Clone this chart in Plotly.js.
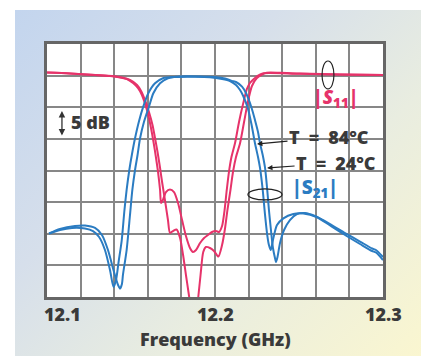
<!DOCTYPE html>
<html>
<head>
<meta charset="utf-8">
<script src="https://cdn.plot.ly/plotly-3.0.1.min.js"></script>
<style>
  html, body { margin: 0; padding: 0; background: #ffffff; }
  #wrap { position: relative; width: 421px; height: 356px; overflow: hidden; background: #ffffff; }
  #bg { position: absolute; left: 15px; top: 10px; right: 0; bottom: 0;
        background: linear-gradient(135deg, #c3d5ee 0%, #d6dfeb 35%, #e9ede0 65%, #faf6d0 100%); }
  #chart { position: absolute; left: 0; top: 0; width: 421px; height: 356px; }
</style>
</head>
<body>
<div id="wrap"><div id="bg"></div><div id="chart"></div></div>
<script>
// ---- Data (frequency in GHz, magnitude in dB, relative scale 5 dB/div) ----
const tickLabels = ["12.1", "12.2", "12.3"];
const tickValues = [12.1, 12.2, 12.3];

// |S11| at T = 84 °C
const s11_84_f = [12.1000,12.1137,12.1286,12.1375,12.1435,12.1476,12.1512,12.1542,12.1565,12.1586,12.1604,12.1619,12.1634,12.1649,12.1661,12.1673,12.1679,12.1690,12.1708,12.1732,12.1756,12.1780,12.1804,12.1827,12.1851,12.1869,12.1887,12.1911,12.1935,12.1958,12.1982,12.2006,12.2024,12.2042,12.2057,12.2070,12.2083,12.2098,12.2119,12.2143,12.2168,12.2190,12.2208,12.2228,12.2256,12.2288,12.2327,12.2506,12.2744,12.3000];
const s11_84_db = [0.49,0.34,0.10,-0.06,-0.30,-0.53,-1.17,-1.96,-3.06,-4.64,-6.38,-8.28,-10.49,-13.02,-15.24,-18.08,-20.14,-19.66,-18.40,-18.00,-18.40,-20.14,-22.83,-25.36,-27.25,-27.89,-27.57,-26.46,-25.67,-25.20,-24.72,-24.57,-24.72,-23.77,-21.25,-18.08,-15.24,-12.87,-10.70,-7.33,-4.38,-2.11,-1.17,-0.61,0.02,0.37,0.42,0.29,0.18,0.10];

// |S11| at T = 24 °C
const s11_24_f = [12.1000,12.1137,12.1286,12.1387,12.1446,12.1494,12.1536,12.1560,12.1583,12.1607,12.1628,12.1643,12.1658,12.1673,12.1685,12.1702,12.1720,12.1732,12.1750,12.1771,12.1792,12.1810,12.1827,12.1842,12.1857,12.1875,12.1893,12.1914,12.1930,12.1946,12.1970,12.1994,12.2020,12.2042,12.2060,12.2074,12.2092,12.2107,12.2125,12.2149,12.2173,12.2198,12.2220,12.2248,12.2280,12.2308,12.2387,12.2506,12.2744,12.3000];
const s11_24_db = [0.49,0.34,0.10,-0.06,-0.30,-0.69,-1.48,-2.43,-3.85,-5.75,-7.81,-9.86,-12.08,-14.60,-16.82,-19.66,-22.83,-24.88,-24.57,-24.33,-25.67,-28.36,-31.52,-34.21,-37.0,-42.0,-37.0,-31.52,-27.89,-27.09,-27.25,-27.73,-28.60,-26.78,-24.09,-21.25,-18.08,-15.24,-12.87,-10.70,-7.33,-3.85,-1.64,-0.42,0.18,0.46,0.45,0.34,0.18,0.10];

// |S21| at T = 84 °C
const s21_84_f = [12.1012,12.1077,12.1149,12.1226,12.1274,12.1310,12.1345,12.1375,12.1396,12.1411,12.1426,12.1445,12.1461,12.1474,12.1490,12.1506,12.1524,12.1548,12.1573,12.1603,12.1643,12.1690,12.1762,12.1881,12.1970,12.2042,12.2089,12.2125,12.2149,12.2168,12.2195,12.2218,12.2238,12.2256,12.2268,12.2284,12.2298,12.2311,12.2321,12.2332,12.2345,12.2369,12.2407,12.2466,12.2526,12.2605,12.2685,12.2774,12.2863,12.2935,12.2958,12.3000];
const s21_84_db = [-24.96,-24.41,-24.09,-24.17,-24.57,-25.51,-27.57,-30.73,-33.42,-32.31,-29.47,-25.99,-21.25,-18.08,-14.92,-12.39,-9.91,-7.17,-4.91,-2.79,-1.21,-0.42,-0.22,-0.19,-0.26,-0.53,-0.85,-1.48,-2.27,-3.22,-5.12,-7.81,-10.70,-12.87,-14.60,-18.08,-22.04,-25.20,-26.78,-27.57,-25.99,-23.62,-22.56,-21.88,-21.80,-22.35,-23.70,-25.20,-26.62,-27.73,-27.96,-29.15];

// |S21| at T = 24 °C
const s21_24_f = [12.1012,12.1077,12.1167,12.1226,12.1286,12.1327,12.1363,12.1399,12.1423,12.1435,12.1446,12.1452,12.1474,12.1494,12.1508,12.1524,12.1539,12.1554,12.1577,12.1607,12.1633,12.1673,12.1720,12.1792,12.1911,12.2000,12.2060,12.2101,12.2125,12.2161,12.2185,12.2218,12.2238,12.2256,12.2268,12.2284,12.2298,12.2311,12.2321,12.2333,12.2345,12.2357,12.2363,12.2372,12.2387,12.2411,12.2446,12.2488,12.2536,12.2595,12.2685,12.2774,12.2863,12.2935,12.2958,12.3000];
const s21_24_db = [-24.96,-24.25,-23.77,-23.70,-24.09,-25.20,-27.57,-31.05,-33.10,-33.66,-32.94,-31.52,-27.57,-22.04,-18.08,-14.92,-12.55,-9.91,-7.33,-4.91,-2.79,-1.21,-0.42,-0.14,-0.14,-0.22,-0.45,-0.85,-1.01,-1.75,-2.79,-5.12,-7.02,-8.91,-10.70,-12.55,-14.60,-18.08,-21.25,-24.41,-27.25,-28.83,-29.47,-28.68,-26.46,-24.41,-22.83,-21.88,-21.72,-22.19,-23.46,-24.88,-26.23,-27.33,-27.57,-28.68];

// ---- Styling ----
const PINK = "#e6336a";
const BLUE = "#2b7cc2";
const TXT = "#3a3a3a";
const FONT = "Open Sans, Liberation Sans, sans-serif";
const W = 800;

function line(f, db, color, name) {
  return { x: f, y: db, type: "scatter", mode: "lines", name: name,
           line: { color: color, width: 2, shape: "spline", smoothing: 0.7 },
           hoverinfo: "skip", showlegend: false };
}

const traces = [
  line(s11_84_f, s11_84_db, PINK, "|S11| 84°C"),
  line(s11_24_f, s11_24_db, PINK, "|S11| 24°C"),
  line(s21_84_f, s21_84_db, BLUE, "|S21| 84°C"),
  line(s21_24_f, s21_24_db, BLUE, "|S21| 24°C")
];

const annotations = [
  // x tick labels
  { x: tickValues[0], y: 0, xref: "x", yref: "paper", text: tickLabels[0], showarrow: false,
    xanchor: "left", yanchor: "top", xshift: -5, yshift: -3, font: { family: FONT, size: 18, color: TXT, weight: W } },
  { x: tickValues[1], y: 0, xref: "x", yref: "paper", text: tickLabels[1], showarrow: false,
    xanchor: "center", yanchor: "top", yshift: -3, font: { family: FONT, size: 18, color: TXT, weight: W } },
  { x: tickValues[2], y: 0, xref: "x", yref: "paper", text: tickLabels[2], showarrow: false,
    xanchor: "center", yanchor: "top", yshift: -3, font: { family: FONT, size: 18, color: TXT, weight: W } },
  // axis title
  { x: 0.5, y: 0, xref: "paper", yref: "paper", text: "Frequency (GHz)", showarrow: false,
    xanchor: "center", yanchor: "top", yshift: -28, font: { family: FONT, size: 18, color: TXT, weight: W } },
  // 5 dB scale marker
  { x: 12.1089, y: -5.59, xref: "x", yref: "y", text: "", showarrow: true, arrowside: "end+start",
    ax: 0, ay: 26, arrowhead: 2, arrowsize: 1, arrowwidth: 1.3, arrowcolor: "#333" },
  { x: 12.1132, y: -7.4, xref: "x", yref: "y", text: "5 dB", showarrow: false, xanchor: "left",
    font: { family: FONT, size: 18, color: TXT, weight: W } },
  // temperature labels
  { x: 12.2250, y: -10.81, xref: "x", yref: "y", text: "T\u2002=\u200284°C", showarrow: true,
    ax: 72, ay: -7, arrowhead: 2, arrowsize: 0.9, arrowwidth: 1.2, arrowcolor: "#222",
    font: { family: FONT, size: 18, color: TXT, weight: W } },
  { x: 12.2310, y: -14.60, xref: "x", yref: "y", text: "T\u2002=\u200224°C", showarrow: true,
    ax: 69, ay: -5, arrowhead: 2, arrowsize: 0.9, arrowwidth: 1.2, arrowcolor: "#222",
    font: { family: FONT, size: 18, color: TXT, weight: W } },
  // S-parameter labels
  { x: 12.2717, y: -3.5, xref: "x", yref: "y", text: "|<i>S</i><sub>11</sub>|", showarrow: false,
    font: { family: FONT, size: 19, color: PINK, weight: W } },
  { x: 12.2597, y: -17.8, xref: "x", yref: "y", text: "|S<sub>21</sub>|", showarrow: false,
    font: { family: FONT, size: 19, color: BLUE, weight: W } }
];

const shapes = [
  { type: "circle", xref: "x", yref: "y", x0: 12.2637, x1: 12.2708, y0: -2.11, y1: 2.31,
    line: { color: "#222", width: 1.2 } },
  { type: "circle", xref: "x", yref: "y", x0: 12.2196, x1: 12.2399, y0: -19.66, y1: -17.92,
    line: { color: "#222", width: 1.2 } }
];

const layout = {
  width: 421, height: 356,
  margin: { l: 47, r: 38, t: 44, b: 59, pad: 0 },
  paper_bgcolor: "rgba(0,0,0,0)",
  plot_bgcolor: "#ffffff",
  showlegend: false,
  xaxis: { range: [12.1, 12.3], tick0: 12.1, dtick: 0.02, showticklabels: false, ticks: "",
           showgrid: true, gridcolor: "#878787", gridwidth: 2, zeroline: false,
           showline: true, linecolor: "#666666", linewidth: 3, mirror: true, fixedrange: true },
  yaxis: { range: [-35, 5], tick0: -35, dtick: 5, showticklabels: false, ticks: "",
           showgrid: true, gridcolor: "#878787", gridwidth: 2, zeroline: false,
           showline: true, linecolor: "#666666", linewidth: 3, mirror: true, fixedrange: true },
  annotations: annotations,
  shapes: shapes
};

Plotly.newPlot("chart", traces, layout, { staticPlot: true, displayModeBar: false });
</script>
</body>
</html>
